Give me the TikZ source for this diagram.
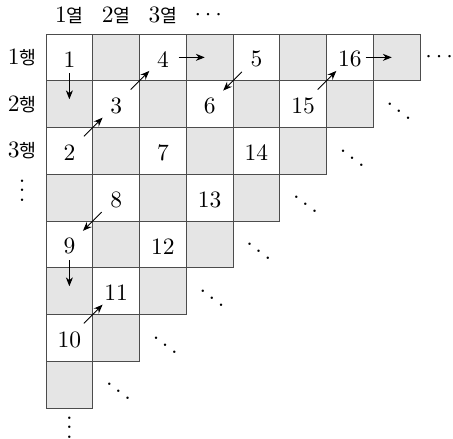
\documentclass[tikz,border=0pt]{standalone}
\usepackage{fontspec}
\newfontfamily\kr[Scale=0.78]{Noto Sans CJK KR}
\usetikzlibrary{arrows.meta}

\begin{document}
\begin{tikzpicture}[x=0.7cm, y=0.7cm,
  cell/.style={draw=black!70, minimum size=0.7cm, inner sep=0pt},
  lab/.style={inner sep=0pt},
  arr/.style={-{Stealth[length=3.8pt, width=3pt]}, thin}]
\useasboundingbox (-0.984,0.727) rectangle (8.706,-8.663);
\foreach \i in {1,...,8}{
  \pgfmathtruncatemacro{\last}{9-\i}
  \foreach \j in {1,...,\last}{
    \ifodd\numexpr\i+\j\relax \def\cf{gray!20}\else \def\cf{white}\fi
    \node[cell, fill=\cf] (c-\i-\j) at (\j-0.5, 0.5-\i) {};
  }
}
\foreach \i/\j/\n in {1/1/1, 3/1/2, 2/2/3, 1/3/4, 1/5/5, 2/4/6, 3/3/7, 4/2/8,
    5/1/9, 7/1/10, 6/2/11, 5/3/12, 4/4/13, 3/5/14, 2/6/15, 1/7/16}
  \node[yshift=-0.8pt] (n\n) at (c-\i-\j) {\n};
\node[lab] (col1) at (0.5,0.41) {1{\kr 열}};
\node[lab] (col2) at (1.5,0.41) {2{\kr 열}};
\node[lab] (col3) at (2.5,0.41) {3{\kr 열}};
\node[lab] (coldots) at (3.47,0.41) {$\cdots$};
\node[lab] (row1) at (-0.51,-0.5) {1{\kr 행}};
\node[lab] (row2) at (-0.51,-1.5) {2{\kr 행}};
\node[lab] (row3) at (-0.51,-2.5) {3{\kr 행}};
\node[lab] (rowdots) at (-0.51,-3.2) {$\vdots$};
\node[lab] (rdots) at (8.41,-0.5) {$\cdots$};
\node[lab] (bdots) at (0.5,-8.27) {$\vdots$};
\foreach \i in {2,...,8}
  \node[lab] (d\i) at (9.55-\i, 0.5-\i) {$\ddots$};
\draw[arr] ([yshift=0.12cm]c-1-1.south) -- ([yshift=-0.27cm]c-1-1.south);
\draw[arr] ([shift={(-0.14cm,-0.14cm)}]c-3-1.north east) -- ([shift={(0.14cm,0.14cm)}]c-3-1.north east);
\draw[arr] ([shift={(-0.14cm,-0.14cm)}]c-2-2.north east) -- ([shift={(0.14cm,0.14cm)}]c-2-2.north east);
\draw[arr] ([xshift=-0.12cm]c-1-3.east) -- ([xshift=0.27cm]c-1-3.east);
\draw[arr] ([shift={(0.14cm,0.14cm)}]c-1-5.south west) -- ([shift={(-0.14cm,-0.14cm)}]c-1-5.south west);
\draw[arr] ([shift={(-0.14cm,-0.14cm)}]c-2-6.north east) -- ([shift={(0.14cm,0.14cm)}]c-2-6.north east);
\draw[arr] ([xshift=-0.12cm]c-1-7.east) -- ([xshift=0.27cm]c-1-7.east);
\draw[arr] ([shift={(0.14cm,0.14cm)}]c-4-2.south west) -- ([shift={(-0.14cm,-0.14cm)}]c-4-2.south west);
\draw[arr] ([yshift=0.12cm]c-5-1.south) -- ([yshift=-0.27cm]c-5-1.south);
\draw[arr] ([shift={(-0.14cm,-0.14cm)}]c-7-1.north east) -- ([shift={(0.14cm,0.14cm)}]c-7-1.north east);
\end{tikzpicture}
\end{document}
